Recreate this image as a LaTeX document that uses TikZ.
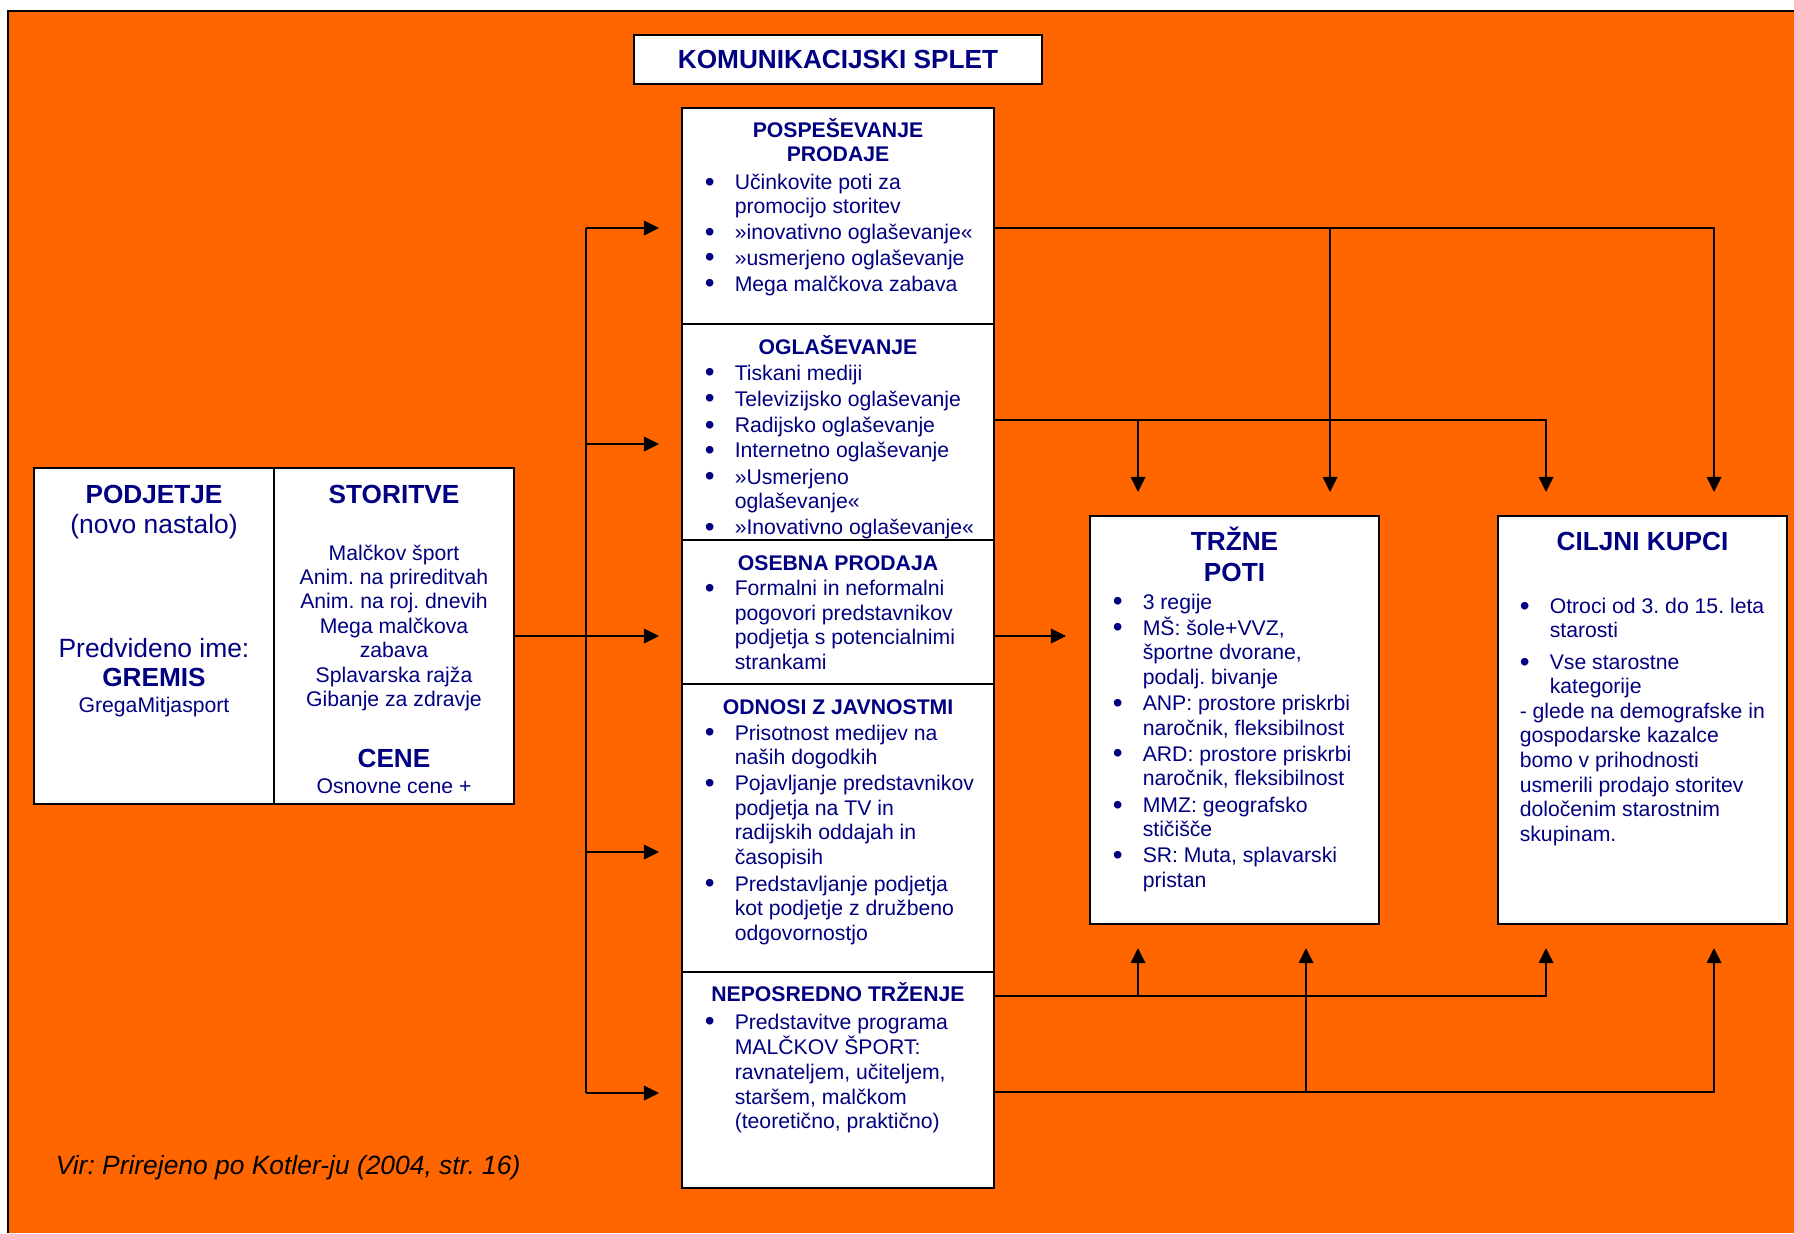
\documentclass[tikz,border=0pt]{standalone}
\usepackage{fontspec}
\setmainfont{Liberation Sans}
\usetikzlibrary{arrows.meta}
\frenchspacing

\definecolor{kbOrange}{RGB}{255,102,0}
\definecolor{kbNavy}{RGB}{0,0,128}

\newcommand{\bul}{\llap{\raisebox{-0.9pt}{\fontsize{14}{14}\selectfont\textbullet}\hspace{10pt}}}
\newcommand{\itmlines}[1]{\begin{tabular}[t]{@{}l@{}}#1\end{tabular}}
\newcommand{\ctrlines}[1]{\begin{tabular}[t]{@{}c@{}}#1\end{tabular}}

\tikzset{every picture/.style={line width=0.75pt}}
\tikzset{
  box/.style={draw, fill=white, line width=0.9pt, inner sep=0pt},
  head/.style={anchor=base, inner sep=0pt, text=kbNavy, font=\fontsize{10.6}{12}\selectfont\bfseries},
  bighead/.style={anchor=base, inner sep=0pt, text=kbNavy, font=\fontsize{13.1}{15.5}\selectfont\bfseries},
  txt/.style={anchor=base, inner sep=0pt, text=kbNavy, font=\fontsize{10.6}{12.2}\selectfont},
  bigtxt/.style={anchor=base, inner sep=0pt, text=kbNavy, font=\fontsize{13.2}{15}\selectfont},
  itm/.style={anchor=base west, inner sep=0pt, text=kbNavy, font=\fontsize{10.6}{12.3}\selectfont},
  conn/.style={line width=0.75pt},
  arr/.style={conn, -{Triangle[length=7.6pt,width=7.4pt]}},
}

\begin{document}
\begin{tikzpicture}[x=0.5pt,y=0.5pt,yscale=-1,xscale=1]
\useasboundingbox (0,0) rectangle (1794,1233);

%Background
\fill[white] (0,0) rectangle (1794,1233);
\fill[kbOrange] (8,10) rectangle (1794,1233);
\draw[line width=1pt] (8,1233) -- (8,11) -- (1794,11);

%Shape: Title
\node[box, minimum width=204pt, minimum height=24.5pt, text=kbNavy, font=\fontsize{13.1}{15}\selectfont\bfseries] (ks) at (838,59.5) {KOMUNIKACIJSKI SPLET};

%Shape: Rectangle [podjetje]
\node[box, minimum width=120pt, minimum height=168pt] (pj) at (154,636) {};
%Shape: Rectangle [storitve]
\node[box, minimum width=120pt, minimum height=168pt] (st) at (394,636) {};

% Text Node
\node[bighead] (pjh) at (154,503) {PODJETJE};
\node[bigtxt] (pjn) at (154,533) {(novo nastalo)};
\node[bigtxt] (pji) at (154,657) {Predvideno ime:};
\node[bighead] (pjg) at (154,686) {GREMIS};
\node[txt] (pjm) at (154,712) {GregaMitjasport};
% Text Node
\node[bighead] (sth) at (394,503) {STORITVE};
\node[txt] (stl) at (394,560) {\ctrlines{Malčkov šport\\Anim. na prireditvah\\Anim. na roj. dnevih\\Mega malčkova\\zabava\\Splavarska rajža\\Gibanje za zdravje}};
\node[bighead] (ceh) at (394,767) {CENE};
\node[txt] (cel) at (394,793) {Osnovne cene +};

%Shape: Rectangle [pospesevanje prodaje]
\node[box, minimum width=156pt, minimum height=108pt] (pp) at (838,216) {};
% Text Node
\node[head] (pph) at (838,137.7) {\ctrlines{POSPEŠEVANJE\\PRODAJE}};
\node[itm] (pp1) at (734,189.3) {\itmlines{\bul Učinkovite poti za\\ promocijo storitev}};
\node[itm] (pp2) at (734,239.3) {\bul »inovativno oglaševanje«};
\node[itm] (pp3) at (734,265) {\bul »usmerjeno oglaševanje};
\node[itm] (pp4) at (734,291) {\bul Mega malčkova zabava};

%Shape: Rectangle [oglasevanje]
\node[box, minimum width=156pt, minimum height=108pt] (og) at (838,432) {};
% Text Node
\node[head] (ogh) at (838,354) {OGLAŠEVANJE};
\node[itm] (og1) at (734,380) {\bul Tiskani mediji};
\node[itm] (og2) at (734,406) {\bul Televizijsko oglaševanje};
\node[itm] (og3) at (734,432.7) {\bul Radijsko oglaševanje};
\node[itm] (og4) at (734,457.7) {\bul Internetno oglaševanje};
\node[itm] (og5) at (734,484) {\itmlines{\bul »Usmerjeno\\ oglaševanje«}};
\node[itm] (og6) at (734,534.3) {\bul »Inovativno oglaševanje«};

%Shape: Rectangle [osebna prodaja]
\node[box, minimum width=156pt, minimum height=72pt] (os) at (838,612) {};
% Text Node
\node[head] (osh) at (838,570) {OSEBNA PRODAJA};
\node[itm] (os1) at (734,595.7) {\itmlines{\bul Formalni in neformalni\\ pogovori predstavnikov\\ podjetja s potencialnimi\\ strankami}};

%Shape: Rectangle [odnosi z javnostmi]
\node[box, minimum width=156pt, minimum height=144pt] (od) at (838,828) {};
% Text Node
\node[head] (odh) at (838,714) {ODNOSI Z JAVNOSTMI};
\node[itm] (od1) at (734,740) {\itmlines{\bul Prisotnost medijev na\\ naših dogodkih}};
\node[itm] (od2) at (734,790.7) {\itmlines{\bul Pojavljanje predstavnikov\\ podjetja na TV in\\ radijskih oddajah in\\ časopisih}};
\node[itm] (od3) at (734,891) {\itmlines{\bul Predstavljanje podjetja\\ kot podjetje z družbeno\\ odgovornostjo}};

%Shape: Rectangle [neposredno trzenje]
\node[box, minimum width=156pt, minimum height=108pt] (np) at (838,1080) {};
% Text Node
\node[head] (nph) at (838,1001.7) {NEPOSREDNO TRŽENJE};
\node[itm] (np1) at (734,1029) {\itmlines{\bul Predstavitve programa\\ MALČKOV ŠPORT:\\ ravnateljem, učiteljem,\\ staršem, malčkom\\ (teoretično, praktično)}};

%Shape: Rectangle [trzne poti]
\node[box, minimum width=144.5pt, minimum height=204pt] (tp) at (1234.5,720) {};
% Text Node
\node[bighead] (tph) at (1234.5,550.7) {\ctrlines{TRŽNE\\POTI}};
\node[itm] (tp1) at (1142,609) {\bul 3 regije};
\node[itm] (tp2) at (1142,635) {\itmlines{\bul MŠ: šole+VVZ,\\ športne dvorane,\\ podalj. bivanje}};
\node[itm] (tp3) at (1142,710.7) {\itmlines{\bul ANP: prostore priskrbi\\ naročnik, fleksibilnost}};
\node[itm] (tp4) at (1142,761) {\itmlines{\bul ARD: prostore priskrbi\\ naročnik, fleksibilnost}};
\node[itm] (tp5) at (1142,812.3) {\itmlines{\bul MMZ: geografsko\\ stičišče}};
\node[itm] (tp6) at (1142,862.7) {\itmlines{\bul SR: Muta, splavarski\\ pristan}};

%Shape: Rectangle [ciljni kupci]
\node[box, minimum width=144.5pt, minimum height=204pt] (ck) at (1642.5,720) {};
% Text Node
\node[bighead] (ckh) at (1642.5,550.7) {CILJNI KUPCI};
\node[itm] (ck1) at (1549,613.3) {\itmlines{\bul Otroci od 3. do 15. leta\\ starosti}};
\node[itm] (ck2) at (1549,669.3) {\itmlines{\bul Vse starostne\\ kategorije}};
\node[itm] (ck3) at (1519,718.3) {\itmlines{- glede na demografske in\\gospodarske kazalce\\bomo v prihodnosti\\usmerili prodajo storitev\\določenim starostnim\\skupinam.}};

% Text Node
\node[anchor=base west, inner sep=0pt, font=\fontsize{13.2}{15}\selectfont\itshape] (vir) at (55,1174) {Vir: Prirejeno po Kotler-ju (2004, str. 16)};

%Connectors: left
\coordinate (trk) at (586,636);
\coordinate (la1) at (659,228);
\coordinate (la2) at (659,444);
\coordinate (la3) at (659,636);
\coordinate (la4) at (659,852);
\coordinate (la5) at (659,1093);
\draw[conn] (st.east) -- (trk);
\draw[arr] (trk) -- (la3);
\draw[conn] (trk |- la1) -- (trk |- la5);
\foreach \c in {la1,la2,la4,la5}
  \draw[arr] (trk |- \c) -- (\c);

%Connectors: right
\coordinate (ta1) at (1138,492);
\coordinate (ta2) at (1330,492);
\coordinate (ta3) at (1546,492);
\coordinate (ta4) at (1714,492);
\coordinate (ba1) at (1138,948);
\coordinate (ba2) at (1306,948);
\coordinate (ba3) at (1546,948);
\coordinate (ba4) at (1714,948);
\coordinate (osa) at (1066,636);
\coordinate (r1) at (1714,228);
\coordinate (r2) at (1546,420);
\coordinate (r3) at (1546,996);
\coordinate (r4) at (1714,1092);

\draw[arr] (pp.east |- r1) -- (r1) -- (ta4);
\draw[arr] (ta2 |- r1) -- (ta2);
\draw[arr] (og.east |- r2) -- (r2) -- (ta3);
\draw[arr] (ta1 |- r2) -- (ta1);
\draw[arr] (os.east |- osa) -- (osa);
\draw[arr] (np.east |- r3) -- (r3) -- (ba3);
\draw[arr] (ba1 |- r3) -- (ba1);
\draw[arr] (np.east |- r4) -- (r4) -- (ba4);
\draw[arr] (ba2 |- r4) -- (ba2);

\end{tikzpicture}
\end{document}
